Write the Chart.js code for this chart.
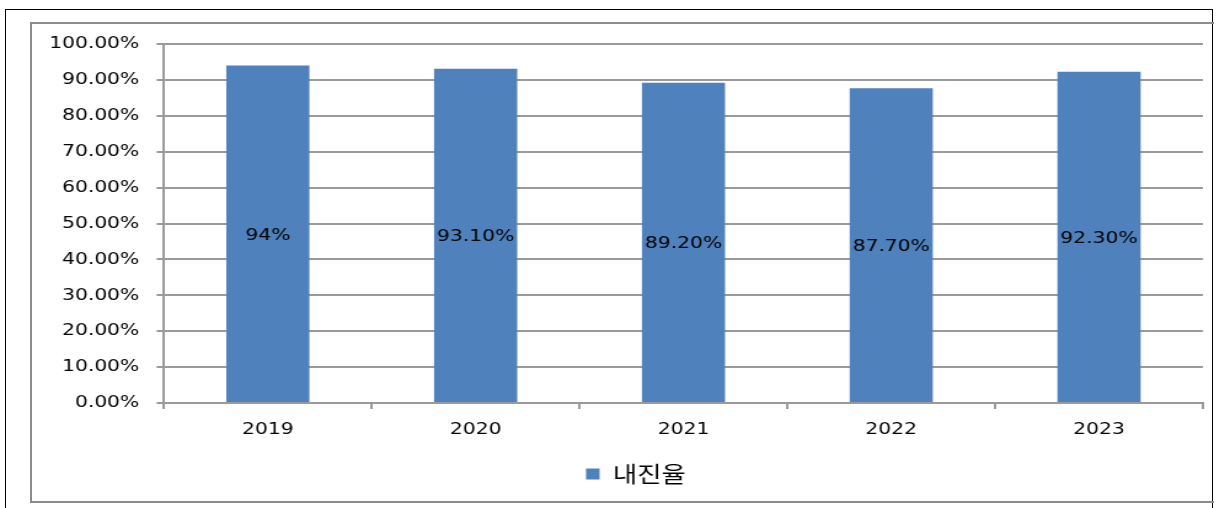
<!DOCTYPE html>
<html>
<head>
<meta charset="utf-8">
<script src="https://cdn.jsdelivr.net/npm/chart.js@4"></script>
<style>
  html, body { margin: 0; padding: 0; background: #fff; }
  body { width: 1220px; height: 508px; position: relative; overflow: hidden; }
  .frame-outer { position: absolute; left: 5px; top: 9px; width: 1208px; height: 520px; border: 1px solid #000; box-sizing: border-box; }
  .frame-inner { position: absolute; left: 30px; top: 22px; width: 1184px; height: 481px; border: 2px solid #8c8c8c; border-right: none; box-sizing: border-box; }
  /* the source picture is stretched sideways, so the chart is drawn narrower and scaled */
  .stretch { position: absolute; left: 0; top: 0; width: 992px; height: 508px; transform: scaleX(1.23); transform-origin: 0 0; }
</style>
</head>
<body>
<div class="frame-outer"></div>
<div class="frame-inner"></div>
<div class="stretch"><canvas id="chart"></canvas></div>
<script>
/* Data
================================================================ */

const years = ['2019', '2020', '2021', '2022', '2023']
const rates = [94, 93.1, 89.2, 87.7, 92.3]
const rateLabels = ['94%', '93.10%', '89.20%', '87.70%', '92.30%']
const seriesName = '내진율'

/* Chart
================================================================ */

const tickFont = { family: '"DejaVu Sans", Verdana, sans-serif', size: 16.5 }
const gridGray = '#9a9a9a'

// labels in the middle of each bar
const barLabels = {
  id: 'barLabels',
  afterDatasetsDraw(chart) {
    const ctx = chart.ctx
    const meta = chart.getDatasetMeta(0)
    ctx.save()
    ctx.font = '16.5px "DejaVu Sans", Verdana, sans-serif'
    ctx.fillStyle = '#000'
    ctx.textAlign = 'center'
    ctx.textBaseline = 'middle'
    meta.data.forEach((bar, i) => {
      ctx.fillText(rateLabels[i], bar.x, (bar.y + bar.base) / 2 + 1.5)
    })
    ctx.restore()
  }
}

// legend sits a bit right of the canvas centre in the original
const legendShift = {
  id: 'legendShift',
  beforeDraw(chart) {
    chart.legend.left = 56
    chart.legend.right = chart.chartArea.right
  }
}

new Chart(document.getElementById('chart'), {
  type: 'bar',
  data: {
    labels: years,
    datasets: [
      {
        label: seriesName,
        data: rates,
        backgroundColor: '#4f81bd',
        barPercentage: 0.4,
        categoryPercentage: 1
      }
    ]
  },
  options: {
    responsive: true,
    maintainAspectRatio: false,
    animation: false,
    layout: {
      padding: { top: 44, left: 0, right: 14, bottom: 13.25 }
    },
    scales: {
      x: {
        grid: { drawOnChartArea: false, color: gridGray, lineWidth: 2, tickLength: 6 },
        border: { color: gridGray, width: 2 },
        ticks: { color: '#000', font: tickFont, padding: 11 },
        afterFit: (scale) => { scale.height = 50.25 }
      },
      y: {
        min: 0,
        max: 100,
        grid: { color: gridGray, lineWidth: 2, tickLength: 6 },
        border: { color: gridGray, width: 2 },
        ticks: {
          stepSize: 10,
          color: '#000',
          font: tickFont,
          padding: 14,
          callback: (v) => v.toFixed(2) + '%'
        },
        afterFit: (scale) => { scale.width = 133.3 }
      }
    },
    plugins: {
      legend: {
        position: 'bottom',
        labels: {
          color: '#000',
          boxWidth: 11,
          boxHeight: 11,
          padding: 10,
          font: { family: '"Noto Sans CJK KR", sans-serif', size: 21.5 }
        }
      },
      tooltip: { enabled: false }
    }
  },
  plugins: [barLabels, legendShift]
})
</script>
</body>
</html>
